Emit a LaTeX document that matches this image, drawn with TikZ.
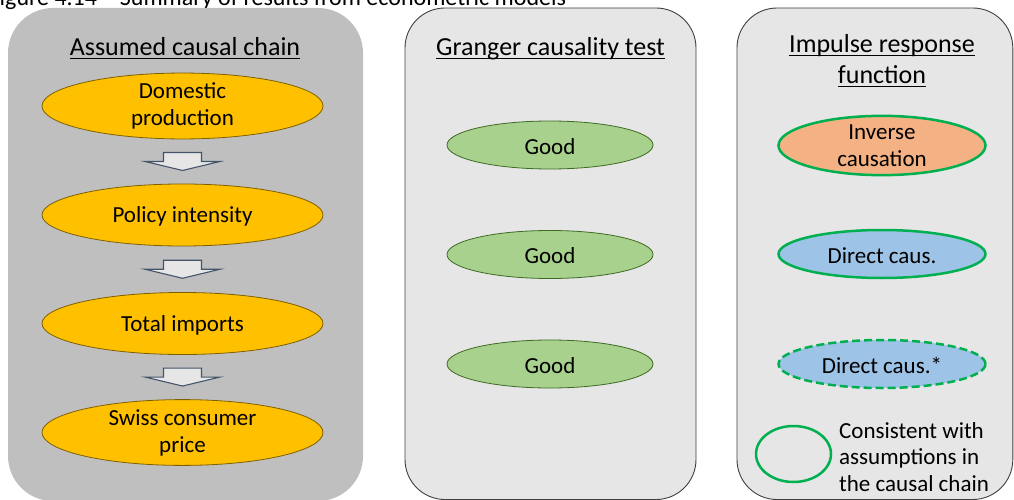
\documentclass[tikz,border=0pt]{standalone}
\usepackage{fontspec}
\setmainfont{Carlito}
\usetikzlibrary{shapes.geometric,calc}
\definecolor{panelA}{HTML}{BFBFBF}
\definecolor{panelB}{HTML}{E6E6E6}
\definecolor{panelLine}{HTML}{404040}
\definecolor{gold}{HTML}{FFC000}
\definecolor{goldLine}{HTML}{7F6000}
\definecolor{goodFill}{HTML}{A9D18E}
\definecolor{goodLine}{HTML}{3D6B22}
\definecolor{orangeFill}{HTML}{F4B183}
\definecolor{blueFill}{HTML}{9DC3E6}
\definecolor{greenLine}{HTML}{00B050}
\definecolor{arrowFill}{HTML}{E7E6E6}
\definecolor{arrowLine}{HTML}{44546A}
\newcommand{\ulx}[1]{\setbox0\hbox{#1}\rlap{\rule[-0.12em]{\wd0}{0.055em}}\box0}
\tikzset{
  panelone/.style={fill=panelA, draw=none, rounded corners=45pt},
  paneltwo/.style={fill=panelB, draw=panelLine, line width=0.9pt, rounded corners=40pt},
  title/.style={anchor=base, inner sep=0pt, font=\fontsize{26}{31}\selectfont},
  ell/.style={ellipse, inner sep=0pt, align=center, font=\fontsize{23}{27}\selectfont,
     execute at begin node={\rule{0pt}{19pt}}},
  chainell/.style={ell, fill=gold, draw=goldLine, line width=0.8pt, minimum width=281pt, minimum height=62pt},
  goodell/.style={ell, fill=goodFill, draw=goodLine, line width=0.8pt, minimum width=206pt, minimum height=48pt},
  irfell/.style={ell, draw=greenLine, line width=2.5pt, minimum width=207pt, minimum height=48pt},
  blockarrow/.pic={\draw[fill=arrowFill, draw=arrowLine, line width=1.1pt, line join=miter]
     (-19,-9) -- (19,-9) -- (19,0) -- (37.5,0) -- (0,9) -- (-37.5,0) -- (-19,0) -- cycle;}
}
\begin{document}
\begin{tikzpicture}[x=1pt,y=-1pt]
\useasboundingbox (0,0) rectangle (1014,500);
\clip (0,0) rectangle (1014,500);
% caption (cut off at the top, as in the reference)
\node[anchor=base west, inner sep=0pt, font=\fontsize{24}{28}\selectfont] (cap) at (-11.5,6) {Figure 4.14 – Summary of results from econometric models};
% panels
\path[panelone] (8,8) rectangle (363,501);
\path[paneltwo] (405,8) rectangle (696,499.5);
\path[paneltwo] (737,8) rectangle (1012.8,499.5);
% titles
\node[title] (t1) at (185,56) {\ulx{Assumed causal chain}};
\node[title] (t2) at (550.5,56) {\ulx{Granger causality test}};
\node[title] (t3a) at (882,53) {\ulx{Impulse response}};
\node[title] (t3b) at (882,84) {\ulx{function}};
% causal chain
\node[chainell] (c1) at (182.5,106) {Domestic\\production};
\node[chainell] (c2) at (182.5,215) {Policy intensity};
\node[chainell] (c3) at (182.5,323.5) {Total imports};
\node[chainell] (c4) at (182.5,432.5) {Swiss consumer\\price};
\pic at ($(c1.south)!0.5!(c2.north)$) {blockarrow};
\pic at ($(c2.south)!0.5!(c3.north)$) {blockarrow};
\pic at ($(c3.south)!0.5!(c4.north)$) {blockarrow};
% Granger
\node[goodell] (g1) at (550,145) {Good};
\node[goodell] (g2) at (550,254.5) {Good};
\node[goodell] (g3) at (550,364) {Good};
% IRF
\node[irfell, fill=orangeFill] (i1) at (882,145.5) {Inverse\\causation};
\node[irfell, fill=blueFill] (i2) at (882,254) {Direct caus.};
\node[irfell, fill=blueFill, dash pattern=on 8pt off 4pt] (i3) at (882,364) {Direct caus.*};
% legend
\node[ellipse, draw=greenLine, line width=2.5pt, minimum width=75pt, minimum height=56pt, inner sep=0pt] (leg) at (793.5,454) {};
\node[anchor=west, inner sep=0pt, align=left, font=\fontsize{23}{26.5}\selectfont] (legtxt) at (839,457) {Consistent with\\assumptions in\\the causal chain};
\end{tikzpicture}
\end{document}
